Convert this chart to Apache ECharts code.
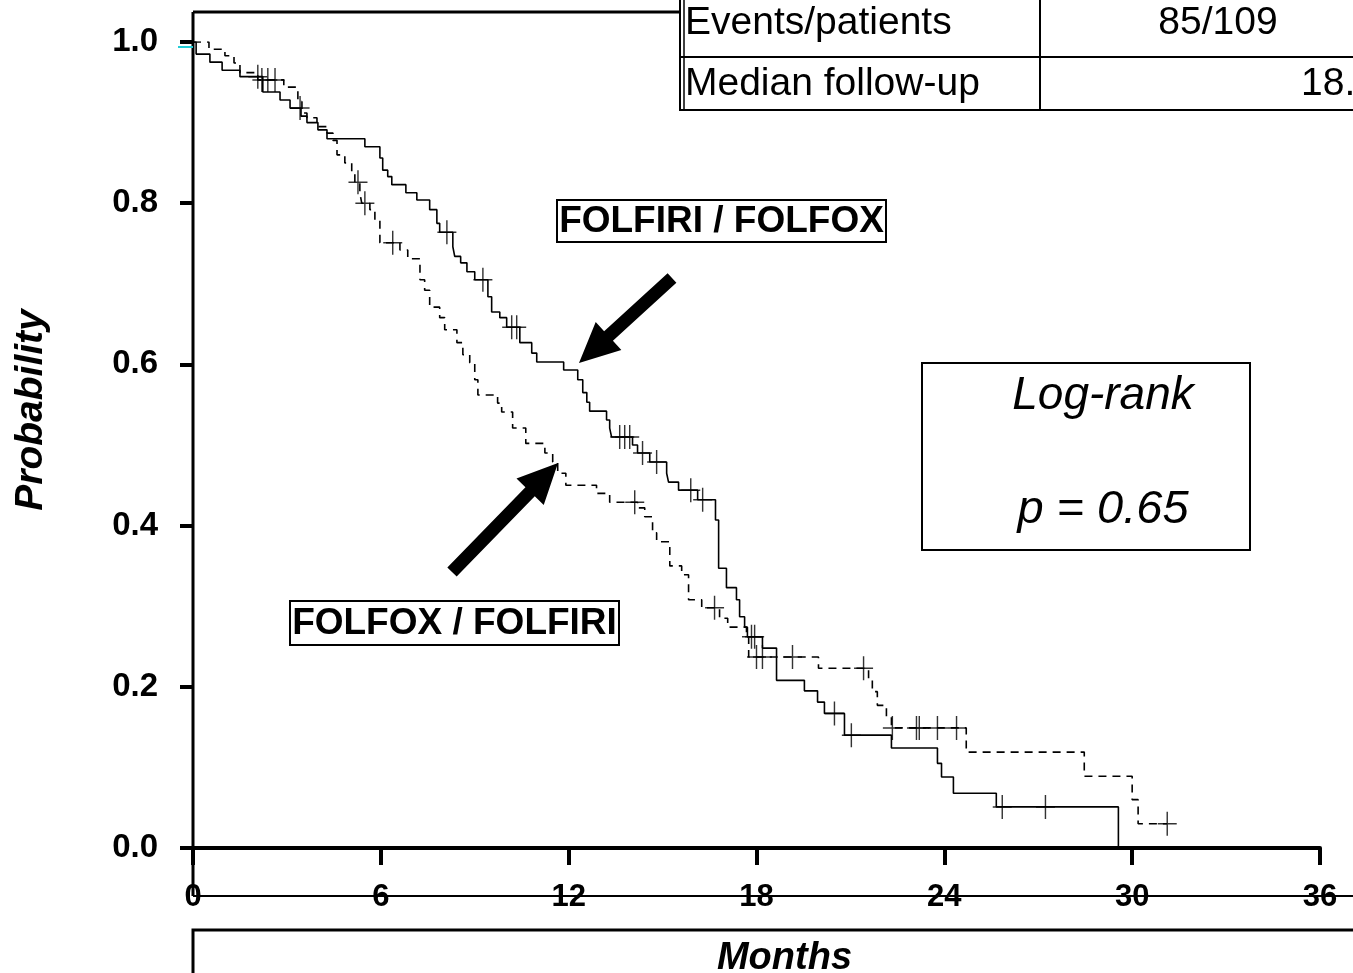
<!DOCTYPE html>
<html>
<head>
<meta charset="utf-8">
<script src="https://cdn.jsdelivr.net/npm/echarts@6/dist/echarts.min.js"></script>
<style>
  html, body { margin: 0; padding: 0; background: #fff; }
  #chartBox { width: 1353px; height: 973px; }
</style>
</head>
<body>
<div id="chartBox"></div>
<script>
// FOLFIRI / FOLFOX arm (solid line): event times (months) and survival after each step
const solidTime = [0, 0.10, 0.54, 0.93, 1.50, 2.23, 2.78, 3.10, 3.45, 3.64, 3.99, 4.28, 5.49, 5.97, 6.06, 6.22, 6.35, 6.80, 7.15, 7.56, 7.79, 7.88, 8.30, 8.36, 8.55, 8.75, 9.00, 9.42, 9.54, 9.80, 10.02, 10.44, 10.82, 10.98, 11.84, 12.29, 12.45, 12.58, 12.67, 13.21, 13.31, 13.37, 14.04, 14.20, 14.59, 15.13, 15.19, 15.51, 16.12, 16.69, 16.79, 17.04, 17.36, 17.46, 17.62, 17.71, 18.19, 18.64, 19.53, 19.95, 20.17, 20.81, 22.31, 23.78, 23.91, 24.29, 25.66, 29.56];
const solidSurv = [1, 0.985, 0.975, 0.965, 0.957, 0.938, 0.928, 0.918, 0.908, 0.900, 0.891, 0.880, 0.870, 0.856, 0.841, 0.833, 0.823, 0.813, 0.804, 0.792, 0.775, 0.764, 0.746, 0.734, 0.726, 0.715, 0.705, 0.684, 0.665, 0.658, 0.646, 0.627, 0.614, 0.603, 0.593, 0.581, 0.565, 0.553, 0.542, 0.531, 0.521, 0.510, 0.500, 0.490, 0.479, 0.465, 0.454, 0.444, 0.432, 0.407, 0.347, 0.323, 0.308, 0.287, 0.274, 0.262, 0.248, 0.208, 0.195, 0.181, 0.167, 0.140, 0.124, 0.105, 0.088, 0.068, 0.051, 0];
const solidCensor = [2.07, 3.42, 8.11, 9.26, 10.18, 10.34, 13.63, 13.79, 13.95, 14.36, 14.81, 15.90, 16.28, 17.84, 17.94, 20.49, 21.03, 25.85, 27.23];

// FOLFOX / FOLFIRI arm (dashed line)
const dashTime = [0, 0.51, 1.02, 1.31, 1.50, 2.07, 2.90, 3.35, 3.48, 3.64, 3.96, 4.28, 4.47, 4.60, 4.85, 5.07, 5.17, 5.33, 5.39, 5.65, 5.81, 5.97, 6.61, 6.86, 7.25, 7.40, 7.56, 7.88, 8.04, 8.43, 8.62, 8.84, 9.00, 9.10, 9.73, 9.86, 10.21, 10.63, 11.24, 11.49, 11.65, 11.91, 12.89, 13.31, 14.20, 14.43, 14.68, 14.81, 15.23, 15.61, 15.83, 16.25, 16.82, 17.08, 17.68, 17.75, 19.98, 21.58, 21.70, 21.86, 22.15, 22.31, 24.70, 28.47, 30.00, 30.19, 31.12];
const dashSurv = [1, 0.991, 0.983, 0.974, 0.962, 0.953, 0.944, 0.926, 0.912, 0.906, 0.895, 0.887, 0.878, 0.860, 0.850, 0.837, 0.826, 0.813, 0.800, 0.792, 0.779, 0.751, 0.742, 0.731, 0.705, 0.692, 0.671, 0.658, 0.643, 0.627, 0.612, 0.602, 0.581, 0.562, 0.552, 0.541, 0.521, 0.502, 0.490, 0.479, 0.465, 0.450, 0.440, 0.429, 0.422, 0.411, 0.391, 0.380, 0.350, 0.339, 0.308, 0.298, 0.285, 0.274, 0.262, 0.237, 0.223, 0.208, 0.194, 0.177, 0.163, 0.149, 0.119, 0.089, 0.060, 0.030, 0.030];
const dashCensor = [2.20, 2.39, 2.62, 5.27, 5.49, 6.38, 14.11, 16.66, 18.00, 18.19, 19.15, 21.42, 22.34, 23.11, 23.20, 23.78, 24.39, 31.12];

const yTicks = ['0.0', '0.2', '0.4', '0.6', '0.8', '1.0'];
const xTicks = ['0', '6', '12', '18', '24', '30', '36'];

const FONT = '"Liberation Sans", Arial, sans-serif';
const PLUS = 'path://M9.25,0h1.5v11.25h9.25v1.5h-9.25v11.25h-1.5v-11.25h-9.25v-1.5h9.25z';

function pairs (t, s) {
  return t.map(function (v, i) { return [v, s[i]]; });
}
// survival value at a censoring time = last step at or before it
function censorPoints (ct, t, s) {
  return ct.map(function (c) {
    let v = s[0];
    for (let i = 0; i < t.length; i++) {
      if (t[i] <= c) v = s[i];
    }
    return [c, v];
  });
}
function arrow (x1, y1, x2, y2) {
  const len = Math.hypot(x2 - x1, y2 - y1);
  const ux = (x2 - x1) / len, uy = (y2 - y1) / len;
  const px = -uy, py = ux;
  const w = 6.5, hw = 19, hl = 40;
  const nx = x2 - ux * hl, ny = y2 - uy * hl;
  return {
    type: 'polygon',
    shape: { points: [
      [x1 + px * w, y1 + py * w], [nx + px * w, ny + py * w], [nx + px * hw, ny + py * hw],
      [x2, y2],
      [nx - px * hw, ny - py * hw], [nx - px * w, ny - py * w], [x1 - px * w, y1 - py * w]
    ] },
    style: { fill: '#000' }
  };
}
function line (x1, y1, x2, y2, w, color) {
  return { type: 'line', shape: { x1: x1, y1: y1, x2: x2, y2: y2 }, style: { stroke: color || '#000', lineWidth: w } };
}
function boxText (x, y, w, h, text, font) {
  return [
    { type: 'rect', shape: { x: x, y: y, width: w, height: h }, style: { fill: '#fff', stroke: '#000', lineWidth: 2 } },
    { type: 'text', x: x + w / 2, y: y + h / 2 + 1, style: { text: text, font: font, fill: '#000', align: 'center', verticalAlign: 'middle' } }
  ];
}

let myChart = echarts.init(document.getElementById('chartBox'));
myChart.setOption({
  backgroundColor: '#fff',
  animation: false,
  grid: { left: 193, right: 33, top: 42, bottom: 125, outerBoundsMode: 'none' },
  xAxis: {
    type: 'value', min: 0, max: 36, interval: 6,
    name: 'Months', nameLocation: 'middle', nameGap: 92,
    nameTextStyle: { fontFamily: FONT, fontSize: 38, fontWeight: 'bold', fontStyle: 'italic', color: '#000', padding: [0, 0, 0, 56] },
    axisLine: { lineStyle: { color: '#000', width: 4 } },
    axisTick: { length: 17, lineStyle: { color: '#000', width: 4 } },
    axisLabel: {
      margin: 34, color: '#000', fontFamily: FONT, fontSize: 31, fontWeight: 'bold',
      formatter: function (v) { return xTicks[Math.round(v / 6)]; }
    },
    splitLine: { show: false }
  },
  yAxis: {
    type: 'value', min: 0, max: 1, interval: 0.2, offset: 8,
    name: 'Probability', nameLocation: 'middle', nameGap: 134,
    nameTextStyle: { fontFamily: FONT, fontSize: 39, fontWeight: 'bold', fontStyle: 'italic', color: '#000', padding: [0, 0, 0, 70] },
    axisLine: { show: false },
    axisTick: { show: true, length: 13, lineStyle: { color: '#000', width: 4 } },
    axisLabel: {
      margin: 27, color: '#000', fontFamily: FONT, fontSize: 33, fontWeight: 'bold',
      formatter: function (v) { return yTicks[Math.round(v * 5)]; }
    },
    splitLine: { show: false }
  },
  series: [
    {
      name: 'FOLFIRI / FOLFOX', type: 'line', step: 'end', symbol: 'none',
      data: pairs(solidTime, solidSurv),
      lineStyle: { color: '#000', width: 1.6 }
    },
    {
      name: 'FOLFOX / FOLFIRI', type: 'line', step: 'end', symbol: 'none',
      data: pairs(dashTime, dashSurv),
      lineStyle: { color: '#000', width: 1.6, type: [8, 6] }
    },
    {
      type: 'scatter', symbol: PLUS, symbolSize: [19, 24],
      data: censorPoints(solidCensor, solidTime, solidSurv),
      itemStyle: { color: '#000' }
    },
    {
      type: 'scatter', symbol: PLUS, symbolSize: [19, 24],
      data: censorPoints(dashCensor, dashTime, dashSurv),
      itemStyle: { color: '#000' }
    }
  ],
  graphic: [].concat(
    [
      line(193, 12, 680, 12, 3),
      line(193, 12, 193, 896, 3),
      line(193, 896, 1353, 896, 2),
      line(178, 47, 193, 47, 2, '#22ccd6'),
      { type: 'rect', shape: { x: 193, y: 930, width: 1200, height: 100 }, style: { fill: 'none', stroke: '#000', lineWidth: 3 } },
      // table in the top right corner
      { type: 'rect', shape: { x: 680, y: -10, width: 720, height: 120 }, style: { fill: '#fff', stroke: '#000', lineWidth: 2 } },
      line(684, -10, 684, 110, 1.5),
      line(680, 57, 1353, 57, 2),
      line(1040, -10, 1040, 110, 2),
      { type: 'text', x: 685, y: 23, style: { text: 'Events/patients', font: '39px ' + FONT, fill: '#000', verticalAlign: 'middle' } },
      { type: 'text', x: 685, y: 84, style: { text: 'Median follow-up', font: '39px ' + FONT, fill: '#000', verticalAlign: 'middle' } },
      { type: 'text', x: 1218, y: 23, style: { text: '85/109', font: '39px ' + FONT, fill: '#000', align: 'center', verticalAlign: 'middle' } },
      { type: 'text', x: 1301, y: 84, style: { text: '18.', font: '39px ' + FONT, fill: '#000', verticalAlign: 'middle' } },
      // log-rank box
      { type: 'rect', shape: { x: 922, y: 363, width: 328, height: 187 }, style: { fill: '#fff', stroke: '#000', lineWidth: 2 } },
      { type: 'text', x: 1103, y: 396, style: { text: 'Log-rank', font: 'italic 46px ' + FONT, fill: '#000', align: 'center', verticalAlign: 'middle' } },
      { type: 'text', x: 1103, y: 510, style: { text: 'p = 0.65', font: 'italic 47px ' + FONT, fill: '#000', align: 'center', verticalAlign: 'middle' } },
      arrow(672, 278, 579, 363),
      arrow(452, 572, 558, 463)
    ],
    boxText(557, 200, 329, 42, 'FOLFIRI / FOLFOX', 'bold 37px ' + FONT),
    boxText(290, 601, 329, 44, 'FOLFOX / FOLFIRI', 'bold 37px ' + FONT)
  )
});
</script>
</body>
</html>
